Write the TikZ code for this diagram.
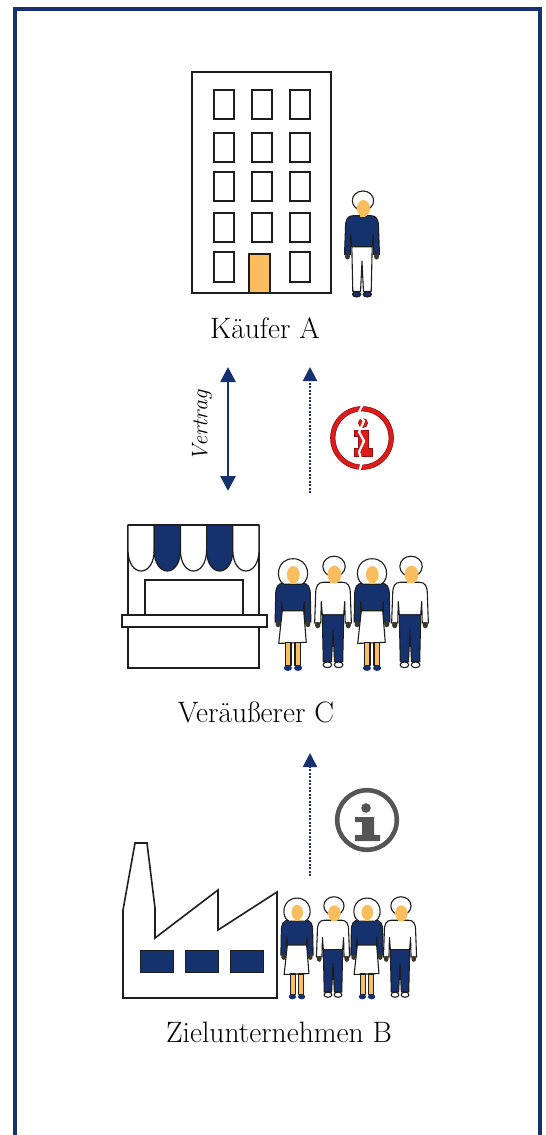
\documentclass[tikz,border=0pt]{standalone}
\usetikzlibrary{arrows.meta}
\definecolor{navy}{RGB}{22,50,110}
\definecolor{skin}{RGB}{251,190,95}
\definecolor{alarm}{RGB}{220,28,28}
\definecolor{alarmdark}{RGB}{150,15,15}
\definecolor{infogray}{RGB}{85,85,85}
\definecolor{ink}{RGB}{30,30,30}
\definecolor{handc}{RGB}{60,55,45}

\tikzset{
  outline/.style={draw=ink, line width=1.9pt},
  thin outline/.style={draw=ink, line width=1.2pt},
  figline/.style={draw=ink, line width=1.1pt, line join=round},
  caption/.style={font=\fontsize{29.5}{35}\selectfont, inner sep=0pt, anchor=base},
  navyarrow/.style={navy, line width=2.7pt, {Triangle[width=15pt,length=15pt]}-{Triangle[width=15pt,length=15pt]}},
  dotarrow/.style={navy, line width=2.1pt, dash pattern=on 2pt off 1.5pt, -{Triangle[width=14pt,length=14pt]}},
}

% woman: x, y (head centre), scale
\newcommand{\womanfig}[3]{%
  \begin{scope}[shift={(#1,#2)},scale=#3]
    % arms and blouse
    \filldraw[fill=navy, figline] (-9,10) .. controls (-15,10) and (-17,14) .. (-17,22)
      -- (-17.5,48) -- (-11.5,48) -- (-11,28) -- (-10,37) -- (10,37) -- (11,28) -- (11.5,48)
      -- (17.5,48) -- (17,22) .. controls (17,14) and (15,10) .. (9,10) -- cycle;
    \fill[handc] (-14.5,50) ellipse (2.6 and 3.2);
    \fill[handc] (14.5,50) ellipse (2.6 and 3.2);
    % skirt
    \filldraw[fill=white, figline] (-10.5,37) -- (10.5,37) -- (13,68) -- (-14,69) -- cycle;
    % legs and shoes
    \filldraw[fill=skin, figline] (-7.5,68.5) rectangle (-2,91);
    \filldraw[fill=skin, figline] (2,68.5) rectangle (7.5,91);
    \fill[navy] (-5,93.2) ellipse (4 and 2.8);
    \fill[navy] (5,93.2) ellipse (4 and 2.8);
    % hair and face
    \filldraw[fill=white, figline] (-9,11) .. controls (-18,6) and (-16,-14) .. (0,-14)
      .. controls (16,-14) and (18,6) .. (9,11) -- cycle;
    \fill[skin] (-2.5,6) rectangle (2.5,11);
    \fill[skin] (0.3,1.5) ellipse (6.3 and 8.3);
  \end{scope}}

% man: x, y (head centre), scale, shirt, trousers, shoes
\newcommand{\manfig}[6]{%
  \begin{scope}[shift={(#1,#2)},scale=#3]
    % arms and shirt
    \filldraw[fill=#4, figline] (-9,10) .. controls (-15,10) and (-17,14) .. (-17,22)
      -- (-18,50) -- (-12,50) -- (-11.5,29) -- (-10.5,42) -- (10.5,42) -- (11.5,29) -- (12,50)
      -- (18,50) -- (17,22) .. controls (17,14) and (15,10) .. (9,10) -- cycle;
    \fill[handc] (-15,52) ellipse (2.6 and 3.2);
    \fill[handc] (15,52) ellipse (2.6 and 3.2);
    % trousers and shoes
    \filldraw[fill=#5, figline] (-10.5,42) -- (10.5,42) -- (9.5,88) -- (1.5,88) -- (0,57)
      -- (-1.5,88) -- (-9.5,88) -- cycle;
    \filldraw[fill=#6, figline] (-5.5,91) ellipse (4.3 and 2.8);
    \filldraw[fill=#6, figline] (5.5,91) ellipse (4.3 and 2.8);
    % hair and face
    \filldraw[fill=white, figline] (1,-5.5) ellipse (11 and 10);
    \fill[skin] (-2.5,7) rectangle (3,11);
    \fill[skin] (1.5,2.5) ellipse (6.8 and 8.7);
  \end{scope}}

\begin{document}
\begin{tikzpicture}[x=1pt,y=-1pt]
  \useasboundingbox (0,0) rectangle (546,1135);
  \fill[white] (0,0) rectangle (546,1135);

  % frame
  \draw[navy, line width=3.2pt] (15,1150) -- (15,9) -- (540,9) -- (540,1150);

  % ---------- office building (buyer) ----------
  \filldraw[fill=white, outline] (192,72) rectangle (331,293);
  \foreach \wx in {214,252,290}{
    \foreach \wy in {90,133,172,213}{
      \draw[outline] (\wx,\wy) rectangle ++(20,29);
    }
  }
  \draw[outline] (214,252) rectangle ++(20,30);
  \draw[outline] (290,252) rectangle ++(20,30);
  \filldraw[fill=skin, outline] (249,254) rectangle (270,293);
  \manfig{362}{206}{0.97}{navy}{white}{navy}
  \node[caption] (buyer) at (265,338) {Käufer A};

  % ---------- contract and information arrows ----------
  \coordinate (ctop) at (228,367);
  \coordinate (cbot) at (228,491);
  \draw[navyarrow] (cbot) -- (ctop);
  \node[rotate=90, font=\itshape\fontsize{22.5}{26}\selectfont, inner sep=0pt] (contract) at (202,426) {Vertrag};

  \coordinate (ftop) at (310,367);
  \coordinate (fbot) at (310,493);
  \draw[dotarrow] (fbot) -- (ftop);

  % broken information sign
  \coordinate (bic) at (362,438);
  \filldraw[fill=alarm, draw=alarmdark, line width=0.6pt, even odd rule]
    (bic) circle (31.5) circle (27);
  \filldraw[fill=alarm, draw=alarmdark, line width=0.6pt] (363,423) circle (4.6);
  \filldraw[fill=alarm, draw=alarmdark, line width=0.6pt]
    (354,430) -- (368,430) -- (368,448) -- (372,448) -- (372,456) -- (354,456)
    -- (354,448) -- (358,448) -- (358,436) -- (354,436) -- cycle;
  \draw[white, line width=2.2pt, line join=bevel]
    (363,404) -- (358,414) -- (364,421) -- (359,432) -- (364,441) -- (359,452) -- (362,462) -- (359,472);

  % ---------- market stall (seller) ----------
  \draw[outline] (128,525) -- (128,668) -- (259,668) -- (259,525);
  \foreach \i in {0,...,4}{
    \pgfmathsetmacro{\xa}{128+26.2*\i}
    \pgfmathsetmacro{\xb}{128+26.2*(\i+1)}
    \ifodd\i
      \filldraw[fill=navy, thin outline] (\xa,525) -- (\xa,550) .. controls (\xa,578) and (\xb,578) .. (\xb,550) -- (\xb,525) -- cycle;
    \else
      \filldraw[fill=white, thin outline] (\xa,525) -- (\xa,550) .. controls (\xa,578) and (\xb,578) .. (\xb,550) -- (\xb,525) -- cycle;
    \fi
  }
  \draw[thin outline] (128,525) -- (259,525);
  \draw[outline] (145,616) -- (145,580) -- (243,580) -- (243,616);
  \filldraw[fill=white, outline] (122,615) rectangle (267,627);

  \womanfig{293}{573}{1.02}
  \manfig{333}{572}{1.02}{white}{navy}{white}
  \womanfig{372}{573}{1.02}
  \manfig{410}{572}{1.02}{white}{navy}{white}
  \node[caption] (seller) at (256,722) {Veräußerer C};

  % ---------- information flow from target ----------
  \coordinate (gtop) at (310,753);
  \coordinate (gbot) at (310,876);
  \draw[dotarrow] (gbot) -- (gtop);

  \coordinate (gic) at (367,820);
  \draw[infogray, line width=4.6pt] (gic) circle (29.8);
  \fill[infogray] (366,808) circle (4.8);
  \fill[infogray] (355,817) -- (374,817) -- (374,835) -- (380,835) -- (380,841)
    -- (355,841) -- (355,835) -- (362,835) -- (362,822) -- (355,822) -- cycle;

  % ---------- factory (target company) ----------
  \draw[outline, line width=1.6pt, line join=miter]
    (123,998) -- (123,910) -- (135,843) -- (147,843) -- (155,908) -- (155,938)
    -- (218,890) -- (218,930) -- (277,892) -- (277,998) -- cycle;
  \filldraw[fill=navy, draw=ink, line width=0.8pt] (140,950) rectangle (173,972);
  \filldraw[fill=navy, draw=ink, line width=0.8pt] (185,950) rectangle (218,972);
  \filldraw[fill=navy, draw=ink, line width=0.8pt] (230,950) rectangle (263,972);

  \womanfig{297}{911}{0.92}
  \manfig{333}{911}{0.92}{white}{navy}{white}
  \womanfig{367}{911}{0.92}
  \manfig{400}{911}{0.92}{white}{navy}{white}
  \node[caption] (target) at (279,1042) {Zielunternehmen B};
\end{tikzpicture}
\end{document}
